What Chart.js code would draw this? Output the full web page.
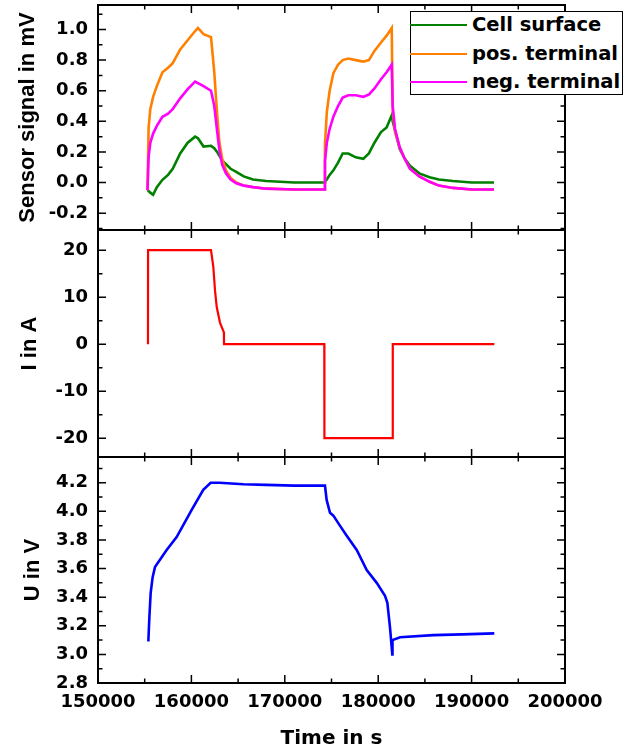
<!DOCTYPE html>
<html>
<head>
<meta charset="utf-8">
<script src="https://cdn.jsdelivr.net/npm/chart.js"></script>
<style>
html,body{margin:0;padding:0;background:#fff;overflow:hidden;}
#wrap{position:relative;width:625px;height:751px;overflow:hidden;background:#fff;}
canvas{position:absolute;left:0;}
#legend{position:absolute;left:410px;top:11px;width:213px;height:84px;border:1px solid #000;background:#fff;box-sizing:border-box;font:bold 19.5px "DejaVu Sans",sans-serif;color:#000;}
.item{position:absolute;left:0;height:24px;width:260px;}
.swatch{position:absolute;left:-1px;top:11px;width:57px;height:2px;}
.label{position:absolute;left:61px;top:0;line-height:24px;white-space:nowrap;}
</style>
</head>
<body>
<div id="wrap">
  <canvas id="c1" width="625" height="290" style="top:-30px"></canvas>
  <canvas id="c2" width="625" height="290" style="top:200px"></canvas>
  <canvas id="c3" width="625" height="324" style="top:427px"></canvas>
  <div id="legend"></div>
</div>
<script>
// ---------------- data ----------------
const sensorTime = [155300, 155420, 155600, 155900, 156300, 156900, 157500, 158000, 158800, 159600,
  160400, 160700, 161300, 162100, 162450, 162750, 163000, 163300, 163700, 164200,
  164800, 165600, 166600, 168000, 171000, 174200, 174300, 174500, 174800, 175200,
  175700, 176200, 176800, 177600, 178400, 179000, 179600, 180300, 180900, 181450,
  181550, 181800, 182300, 182800, 183400, 184400, 185500, 186500, 188000, 190000, 192400];
const cellSurface = [-0.05, -0.055, -0.066, -0.08, -0.03, 0.018, 0.05, 0.09, 0.19, 0.26,
  0.30, 0.29, 0.235, 0.24, 0.225, 0.20, 0.175, 0.145, 0.12, 0.09,
  0.07, 0.04, 0.02, 0.01, 0.0, 0.0, 0.005, 0.02, 0.05, 0.08,
  0.13, 0.19, 0.19, 0.165, 0.155, 0.19, 0.26, 0.33, 0.36, 0.44,
  0.40, 0.34, 0.22, 0.16, 0.11, 0.06, 0.035, 0.02, 0.01, 0.0, 0.0];
const posTerminal = [-0.05, 0.36, 0.48, 0.56, 0.63, 0.72, 0.75, 0.78, 0.87, 0.93,
  0.99, 1.01, 0.97, 0.95, 0.72, 0.45, 0.26, 0.155, 0.08, 0.03,
  0.0, -0.02, -0.03, -0.04, -0.045, -0.045, 0.25, 0.46, 0.60, 0.715,
  0.77, 0.80, 0.81, 0.80, 0.79, 0.80, 0.86, 0.915, 0.96, 1.01,
  0.47, 0.33, 0.23, 0.16, 0.09, 0.04, 0.005, -0.02, -0.035, -0.045, -0.045];
const negTerminal = [-0.05, 0.17, 0.26, 0.32, 0.37, 0.43, 0.45, 0.48, 0.55, 0.61,
  0.66, 0.65, 0.63, 0.60, 0.50, 0.34, 0.21, 0.115, 0.06, 0.02,
  -0.005, -0.02, -0.03, -0.04, -0.045, -0.045, 0.14, 0.26, 0.35, 0.43,
  0.50, 0.555, 0.57, 0.57, 0.56, 0.575, 0.615, 0.675, 0.72, 0.77,
  0.50, 0.35, 0.23, 0.16, 0.09, 0.04, 0.005, -0.02, -0.035, -0.045, -0.045];

const currentTime = [155350, 155360, 162100, 162350, 162530, 162710, 163060, 163480, 163490, 174230, 174240, 181550, 181560, 192430];
const currentA    = [0, 20, 20, 16.4, 11.4, 7.9, 4.6, 2.5, 0, 0, -20, -20, 0, 0];

const voltageTime = [155390, 155500, 155640, 155850, 156100, 157350, 158420, 160030, 161270, 162060,
  163000, 165560, 168000, 171000, 174300, 174480, 174840, 175200, 175900, 176630,
  177700, 178770, 179840, 180730, 180980, 181260, 181510, 181530, 182340, 185890, 189000, 192430];
const voltageV = [3.09, 3.26, 3.43, 3.54, 3.61, 3.73, 3.82, 4.01, 4.15, 4.20,
  4.20, 4.19, 4.185, 4.18, 4.18, 4.08, 3.99, 3.97, 3.90, 3.83,
  3.73, 3.59, 3.50, 3.41, 3.36, 3.19, 3.00, 3.10, 3.12, 3.135, 3.14, 3.147];

const seriesNames  = ['Cell surface', 'pos. terminal', 'neg. terminal'];
const seriesColors = ['#008000', '#FF8000', '#FF00FF'];

const xTicks       = [150000, 160000, 170000, 180000, 190000, 200000];
const sensorTicks  = [-0.2, 0.0, 0.2, 0.4, 0.6, 0.8, 1.0];
const currentTicks = [-20, -10, 0, 10, 20];
const voltageTicks = [2.8, 3.0, 3.2, 3.4, 3.6, 3.8, 4.0, 4.2];

// ---------------- helpers ----------------
const zip = (xs, ys) => xs.map((x, i) => ({x: x, y: ys[i]}));
function minorsOf(majors, lo, hi) {
  const step = majors[1] - majors[0];
  const out = [];
  for (let i = -1; i < majors.length; i++) {
    const v = (i < 0 ? majors[0] - step : majors[i]) + step / 2;
    if (v > lo && v < hi) out.push(v);
  }
  return out;
}

Chart.defaults.font.family = '"DejaVu Sans", sans-serif';
Chart.defaults.font.weight = 'bold';
Chart.defaults.font.size = 18;
Chart.defaults.color = '#000';

const framePlugin = {
  id: 'frame',
  afterDraw(chart) {
    const o = chart.options.plugins.frame;
    if (!o) return;
    const ctx = chart.ctx, a = chart.chartArea;
    const xs = chart.scales.x, ys = chart.scales.y;
    ctx.save();
    ctx.strokeStyle = '#000';
    ctx.lineWidth = 1.5;
    ctx.beginPath();
    const vt = (vals, len) => vals.forEach(v => {
      const p = xs.getPixelForValue(v);
      ctx.moveTo(p, a.bottom); ctx.lineTo(p, a.bottom - len);
      ctx.moveTo(p, a.top); ctx.lineTo(p, a.top + len);
    });
    const ht = (vals, len) => vals.forEach(v => {
      const p = ys.getPixelForValue(v);
      ctx.moveTo(a.left, p); ctx.lineTo(a.left + len, p);
      ctx.moveTo(a.right, p); ctx.lineTo(a.right - len, p);
    });
    vt(o.xMajor, 8); vt(o.xMinor, 4.5);
    ht(o.yMajor, 8); ht(o.yMinor, 4.5);
    ctx.stroke();
    ctx.lineWidth = 2;
    ctx.strokeRect(a.left, a.top, a.right - a.left, a.bottom - a.top);
    ctx.restore();
  }
};

function makeChart(id, datasets, y, showX, padding) {
  const xMin = 150000, xMax = 200000;
  return new Chart(document.getElementById(id), {
    type: 'line',
    data: {datasets: datasets},
    options: {
      responsive: false,
      animation: false,
      devicePixelRatio: 1,
      layout: {padding: padding},
      elements: {point: {radius: 0}, line: {tension: 0}},
      plugins: {
        legend: {display: false},
        tooltip: {enabled: false},
        frame: {
          xMajor: xTicks, xMinor: minorsOf(xTicks, xMin, xMax),
          yMajor: y.ticks, yMinor: minorsOf(y.ticks, y.min, y.max)
        }
      },
      scales: {
        x: {
          type: 'linear', min: xMin, max: xMax,
          display: showX,
          grid: {display: false, drawTicks: false},
          border: {display: false},
          afterBuildTicks: s => { s.ticks = xTicks.map(v => ({value: v})); },
          afterFit: s => { if (showX) s.height = 68; },
          ticks: {padding: 9, maxRotation: 0, autoSkip: false, callback: v => String(v), font: {size: 18}},
          title: {display: showX, text: 'Time in s', font: {size: 20, weight: 'bold'}, padding: {top: 0, bottom: 0}}
        },
        y: {
          type: 'linear', min: y.min, max: y.max,
          grid: {display: false, drawTicks: false},
          border: {display: false},
          afterBuildTicks: s => { s.ticks = y.ticks.map(v => ({value: v})); },
          afterFit: s => { s.width = 98; },
          ticks: {padding: 10, callback: y.fmt, font: {size: 18}},
          title: {display: true, text: y.title,
                  font: {family: '"Liberation Sans", Arial, sans-serif', size: 22, weight: 'bold'},
                  padding: {top: y.titlePad, bottom: 0}}
        }
      }
    },
    plugins: [framePlugin]
  });
}

const sensorSeries = [cellSurface, posTerminal, negTerminal];
makeChart('c1', sensorSeries.map((vals, i) => ({
    label: seriesNames[i], data: zip(sensorTime, vals),
    borderColor: seriesColors[i], borderWidth: 2.6, order: 3 - i
  })),
  {min: -0.31, max: 1.16, ticks: sensorTicks, fmt: v => Number(v).toFixed(1), title: 'Sensor signal in mV', titlePad: 15},
  false, {top: 35, right: 60, bottom: 30, left: 0});

makeChart('c2', [{label: 'I', data: zip(currentTime, currentA), borderColor: '#FF0000', borderWidth: 2.2}],
  {min: -24, max: 24.3, ticks: currentTicks, fmt: v => String(v), title: 'I in A', titlePad: 17},
  false, {top: 30, right: 60, bottom: 33, left: 0});

makeChart('c3', [{label: 'U', data: zip(voltageTime, voltageV), borderColor: '#0000FF', borderWidth: 2.6}],
  {min: 2.8, max: 4.38, ticks: voltageTicks, fmt: v => Number(v).toFixed(1), title: 'U in V', titlePad: 20},
  true, {top: 30, right: 60, bottom: 0, left: 0});

// legend built from the series names / colours
const lg = document.getElementById('legend');
seriesNames.forEach((name, i) => {
  const it = document.createElement('div');
  it.className = 'item';
  it.style.top = (1 + i * 28.7) + 'px';
  const sw = document.createElement('div');
  sw.className = 'swatch';
  sw.style.background = seriesColors[i];
  const lb = document.createElement('div');
  lb.className = 'label';
  lb.textContent = name;
  it.appendChild(sw); it.appendChild(lb);
  lg.appendChild(it);
});
</script>
</body>
</html>
